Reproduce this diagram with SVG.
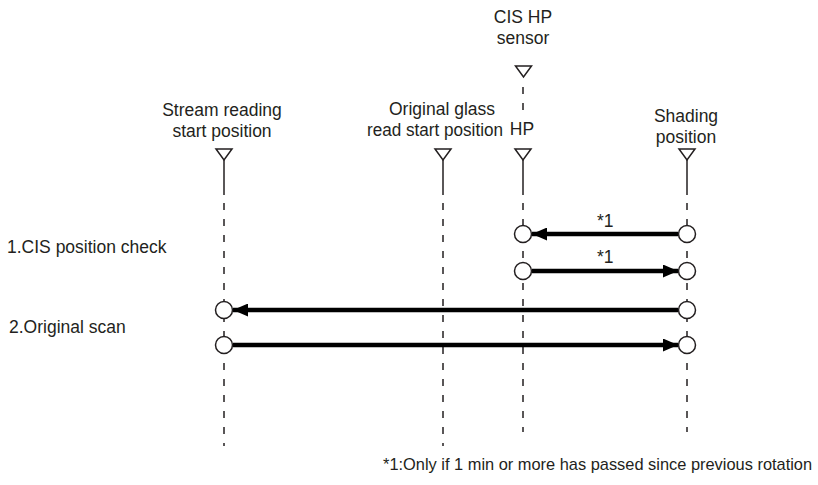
<svg xmlns="http://www.w3.org/2000/svg" width="818" height="485" viewBox="0 0 818 485">
<style>
text{font-family:"Liberation Sans",Arial,sans-serif;font-size:17.5px;fill:#231f20}
.c{text-anchor:middle}
.fn{font-size:16.4px}
.tri{fill:#fff;stroke:#231f20;stroke-width:1.5}
.solid{stroke:#231f20;stroke-width:1.5}
.dash{stroke:#231f20;stroke-width:1.5;stroke-dasharray:7 9}
.node{fill:#fff;stroke:#231f20;stroke-width:1.5}
.arr{stroke:#000;stroke-width:4.5;fill:none}
</style>
<defs>
<marker id="ah" viewBox="0 0 15 13" refX="15" refY="6.5" markerWidth="15" markerHeight="13" markerUnits="userSpaceOnUse" orient="auto">
<path d="M0,0 L15,6.5 L0,13 Z" fill="#000"/>
</marker>
</defs>
<rect width="818" height="485" fill="#fff"/>

<g id="cis-hp-sensor">
<text class="c" x="523" y="23">CIS HP</text>
<text class="c" x="523" y="44">sensor</text>
<path class="tri" d="M515.5,66 L531.5,66 L523.5,77 Z"/>
<line class="dash" x1="523" y1="87" x2="523" y2="112"/>
</g>

<g id="stream-reading">
<text class="c" x="222" y="116">Stream reading</text>
<text class="c" x="222" y="137">start position</text>
<path class="tri" d="M216,149 L232,149 L224,160 Z"/>
<line class="solid" x1="224" y1="160" x2="224" y2="195"/>
<line class="dash" x1="224" y1="203" x2="224" y2="446"/>
</g>

<g id="original-glass">
<text class="c" x="442" y="115">Original glass</text>
<text class="c" x="435" y="136" textLength="136" lengthAdjust="spacingAndGlyphs">read start position</text>
<path class="tri" d="M435,149 L451,149 L443,160 Z"/>
<line class="solid" x1="443" y1="160" x2="443" y2="195"/>
<line class="dash" x1="443" y1="203" x2="443" y2="446"/>
</g>

<g id="hp">
<text class="c" x="522" y="135">HP</text>
<path class="tri" d="M515,149 L531,149 L523,160 Z"/>
<line class="solid" x1="523" y1="160" x2="523" y2="195"/>
<line class="dash" x1="523" y1="203" x2="523" y2="432"/>
</g>

<g id="shading">
<text class="c" x="686" y="122">Shading</text>
<text class="c" x="686" y="143">position</text>
<path class="tri" d="M679,149 L695,149 L687,160 Z"/>
<line class="solid" x1="687" y1="160" x2="687" y2="195"/>
<line class="dash" x1="687" y1="203" x2="687" y2="432"/>
</g>

<g id="labels">
<text x="7" y="253">1.CIS position check</text>
<text x="9" y="333">2.Original scan</text>
<text class="fn" x="383" y="470">*1:Only if 1 min or more has passed since previous rotation</text>
</g>

<g id="connectors">
<line class="arr" x1="678" y1="234" x2="532" y2="234" marker-end="url(#ah)"/>
<text x="597" y="227">*1</text>
<line class="arr" x1="532" y1="271" x2="678" y2="271" marker-end="url(#ah)"/>
<text x="597" y="263">*1</text>
<line class="arr" x1="678" y1="310" x2="233" y2="310" marker-end="url(#ah)"/>
<line class="arr" x1="233" y1="345" x2="678" y2="345" marker-end="url(#ah)"/>
</g>

<g id="circles">
<circle class="node" cx="523" cy="234" r="8.5"/>
<circle class="node" cx="687" cy="234" r="8.5"/>
<circle class="node" cx="523" cy="271" r="8.5"/>
<circle class="node" cx="687" cy="271" r="8.5"/>
<circle class="node" cx="224" cy="310" r="8.5"/>
<circle class="node" cx="687" cy="310" r="8.5"/>
<circle class="node" cx="224" cy="345" r="8.5"/>
<circle class="node" cx="687" cy="345" r="8.5"/>
</g>
</svg>
